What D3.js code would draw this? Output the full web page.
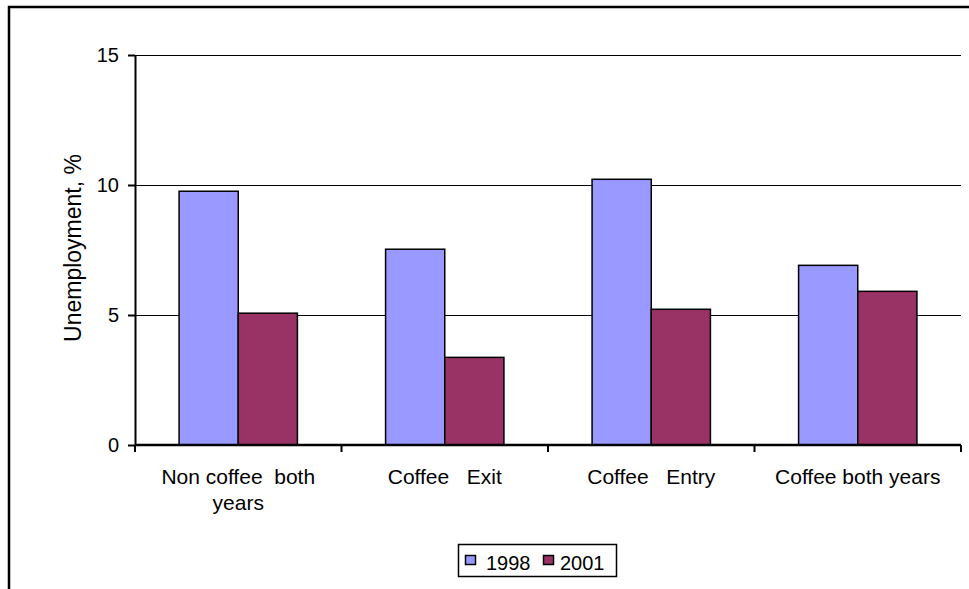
<!DOCTYPE html>
<html>
<head>
<meta charset="utf-8">
<script src="https://cdn.jsdelivr.net/npm/d3@7"></script>
<style>
  body { margin: 0; background: #fff; }
  svg text { font-family: "Liberation Sans", Arial, sans-serif; fill: #000; }
</style>
</head>
<body>
<div id="chart"></div>
<script>
// datos
const categories = [["Non coffee  both", "years"], ["Coffee   Exit"], ["Coffee   Entry"], ["Coffee both years"]];
const seriesNames = ["1998", "2001"];
const values1998 = [9.76, 7.53, 10.22, 6.91];
const values2001 = [5.07, 3.37, 5.22, 5.91];
const yTicks = [0, 5, 10, 15];
const seriesColors = ["#9999FF", "#993366"];

const w = 969, h = 589;
const margin = { top: 55, right: 8, bottom: 144, left: 135 };

const svg = d3.select("#chart").append("svg")
    .attr("width", w)
    .attr("height", h);

// marco exterior
svg.append("rect")
    .attr("x", 9).attr("y", 7)
    .attr("width", w + 20).attr("height", h + 20)
    .attr("fill", "none")
    .attr("stroke", "#000")
    .attr("stroke-width", 2.5);

const x = d3.scaleBand()
    .domain(d3.range(categories.length))
    .range([margin.left, w - margin.right])
    .paddingInner(0).paddingOuter(0);

const xSub = d3.scaleBand()
    .domain(seriesNames)
    .range([0, x.bandwidth()])
    .paddingInner(0)
    .paddingOuter(0.745);

const y = d3.scaleLinear()
    .domain([0, 15])
    .range([h - margin.bottom, margin.top]);

// lineas de cuadricula
svg.append("g")
    .selectAll("line")
    .data(yTicks.filter(d => d > 0))
    .enter()
    .append("line")
    .attr("x1", margin.left)
    .attr("x2", w - margin.right)
    .attr("y1", d => Math.round(y(d)) + 0.5)
    .attr("y2", d => Math.round(y(d)) + 0.5)
    .attr("stroke", "#000")
    .attr("stroke-width", 1);

// barras
const data = [];
categories.forEach((c, i) => {
    data.push({ cat: i, serie: "1998", v: values1998[i] });
    data.push({ cat: i, serie: "2001", v: values2001[i] });
});

svg.append("g")
    .selectAll("rect")
    .data(data)
    .enter()
    .append("rect")
    .attr("x", d => x(d.cat) + xSub(d.serie))
    .attr("y", d => y(d.v))
    .attr("width", xSub.bandwidth())
    .attr("height", d => y(0) - y(d.v))
    .attr("fill", d => seriesColors[seriesNames.indexOf(d.serie)])
    .attr("stroke", "#000")
    .attr("stroke-width", 1.5);

// eje Y
const yAxis = svg.append("g")
    .attr("transform", `translate(${margin.left},0)`)
    .call(d3.axisLeft(y).tickValues(yTicks).tickSize(7).tickPadding(9).tickSizeOuter(0));
yAxis.select(".domain").attr("stroke-width", 2);
yAxis.selectAll(".tick line").attr("stroke-width", 2);
yAxis.selectAll(".tick text").style("font-size", "20px").attr("fill", "#000");

// eje X
const xTicks = d3.range(categories.length + 1).map(i => margin.left + i * x.bandwidth());
const xAxisG = svg.append("g");
xAxisG.append("line")
    .attr("x1", margin.left).attr("x2", w - margin.right)
    .attr("y1", y(0)).attr("y2", y(0))
    .attr("stroke", "#000").attr("stroke-width", 2.5);
xAxisG.selectAll(".xtick")
    .data(xTicks)
    .enter()
    .append("line")
    .attr("x1", d => d).attr("x2", d => d)
    .attr("y1", y(0)).attr("y2", y(0) + 7)
    .attr("stroke", "#000").attr("stroke-width", 2);

// etiquetas de categorias
const labels = svg.append("g")
    .selectAll("text")
    .data(categories)
    .enter()
    .append("text")
    .attr("x", (d, i) => x(i) + x.bandwidth() / 2)
    .attr("y", y(0) + 39)
    .style("text-anchor", "middle")
    .style("font-size", "21px")
    .style("white-space", "pre");
labels.each(function (d) {
    d3.select(this).selectAll("tspan")
        .data(d)
        .enter()
        .append("tspan")
        .attr("x", d3.select(this).attr("x"))
        .attr("dy", (t, j) => j === 0 ? 0 : 26)
        .text(t => t);
});

// titulo eje Y
svg.append("text")
    .attr("transform", "rotate(-90)")
    .attr("x", -248)
    .attr("y", 81)
    .style("text-anchor", "middle")
    .style("font-size", "23px")
    .text("Unemployment, %");

// leyenda
const legend = svg.append("g");
legend.append("rect")
    .attr("x", 458.5).attr("y", 544.5)
    .attr("width", 158).attr("height", 32)
    .attr("fill", "#fff")
    .attr("stroke", "#000")
    .attr("stroke-width", 1.5);

const legendX = [465, 543];
const legendTextX = [486, 560];
seriesNames.forEach((s, i) => {
    legend.append("rect")
        .attr("x", legendX[i] + 0.5).attr("y", 555.5)
        .attr("width", 10).attr("height", 9)
        .attr("fill", seriesColors[i])
        .attr("stroke", "#000")
        .attr("stroke-width", 1.5);
    legend.append("text")
        .attr("x", legendTextX[i])
        .attr("y", 570)
        .style("font-size", "20px")
        .text(s);
});
</script>
</body>
</html>
